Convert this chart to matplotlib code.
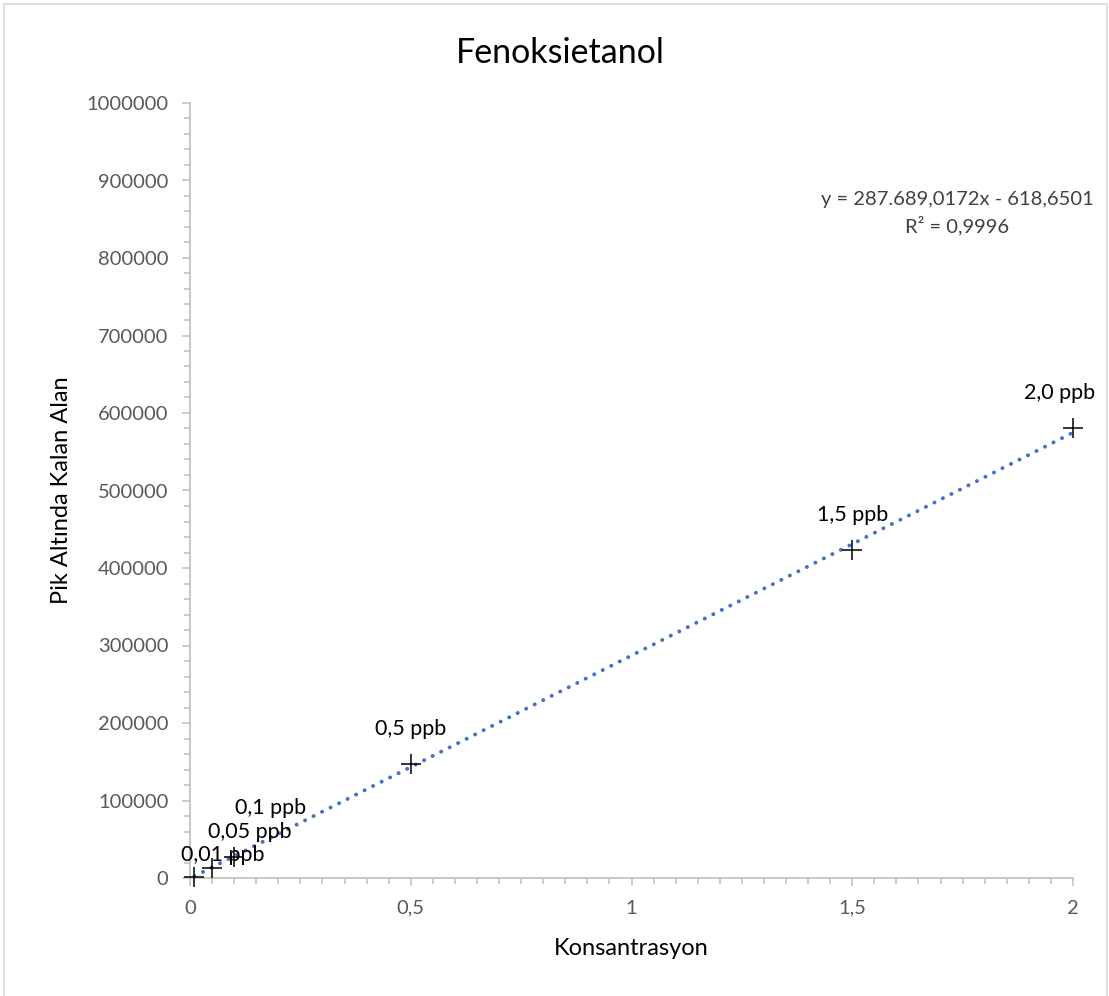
import matplotlib.pyplot as plt
import numpy as np
from matplotlib.patches import Rectangle
from matplotlib.ticker import FuncFormatter, MultipleLocator

plt.rcParams["font.family"] = ["Lato", "DejaVu Sans"]

# calibration points
concentration = [0.01, 0.05, 0.1, 0.5, 1.5, 2.0]
peak_area = [1300, 12900, 27000, 147000, 423000, 580600]
point_labels = ["0,01 ppb", "0,05 ppb", "0,1 ppb", "0,5 ppb", "1,5 ppb", "2,0 ppb"]

# linear trendline reported on the chart
slope = 287689.0172
intercept = -618.6501
r_squared = 0.9996

# label offsets in pixels (dx, dy) relative to each point
label_offsets = [(28, 22), (38, 36), (36, 49), (0, 35), (0, 35), (-13, 35)]

GRAY = "#595959"
AXIS = "#bfbfbf"


def tr_number(value, decimals):
    s = f"{abs(value):,.{decimals}f}"
    s = s.replace(",", "X").replace(".", ",").replace("X", ".")
    return s


fig = plt.figure(figsize=(11.09, 9.96), dpi=100)
ax = fig.add_axes([190 / 1109, 1 - 878 / 996, (1073 - 190) / 1109, (878 - 103) / 996])

# trendline over the data range
xs = np.linspace(min(concentration), max(concentration), 200)
ax.plot(xs, slope * xs + intercept, color="#4472C4", linewidth=2.8,
        linestyle=(0, (0.05, 2.4)), dash_capstyle="round", zorder=2, clip_on=False)

ax.plot(concentration, peak_area, linestyle="none", marker="+", markersize=15,
        markeredgewidth=1.1, color="black", zorder=3, clip_on=False)

for x, y, text, (dx, dy) in zip(concentration, peak_area, point_labels, label_offsets):
    ax.annotate(text, (x, y), xytext=(dx * 0.72, dy * 0.72), textcoords="offset points",
                ha="center", va="center", fontsize=15.5, color="black", zorder=4)

ax.set_xlim(0, 2)
ax.set_ylim(0, 1000000)
ax.xaxis.set_major_locator(MultipleLocator(0.5))
ax.xaxis.set_minor_locator(MultipleLocator(0.05))
ax.yaxis.set_major_locator(MultipleLocator(100000))
ax.yaxis.set_minor_locator(MultipleLocator(20000))
ax.xaxis.set_major_formatter(FuncFormatter(lambda v, p: f"{v:g}".replace(".", ",")))
ax.yaxis.set_major_formatter(FuncFormatter(lambda v, p: f"{int(round(v))}"))

for side in ["top", "right"]:
    ax.spines[side].set_visible(False)
for side in ["left", "bottom"]:
    ax.spines[side].set_color(AXIS)
    ax.spines[side].set_linewidth(1.2)

ax.tick_params(which="major", length=5.5, width=1.1, color=AXIS, labelsize=14.5, labelcolor=GRAY)
ax.tick_params(which="minor", length=4.5, width=1.1, color=AXIS)
ax.tick_params(axis="x", which="major", pad=10)
ax.tick_params(axis="y", which="major", pad=10)

ax.set_xlabel("Konsantrasyon", fontsize=17, color="black")
ax.set_ylabel("Pik Altında Kalan Alan", fontsize=17, color="black")
ax.xaxis.set_label_coords(0.5, -0.078)
ax.yaxis.set_label_coords(-0.134, 0.5)

fig.text(560 / 1109, 1 - 53 / 996, "Fenoksietanol", ha="center", va="center",
         fontsize=24.5, color="black")

sign = "-" if intercept < 0 else "+"
equation = f"y = {tr_number(slope, 4)}x {sign} {tr_number(intercept, 4)}"
fig.text(957 / 1109, 1 - 199 / 996, equation, ha="center", va="center",
         fontsize=14.5, color="#404040")
fig.text(957 / 1109, 1 - 226 / 996, f"R² = {tr_number(r_squared, 4)}", ha="center",
         va="center", fontsize=14.5, color="#404040")

# chart area frame
fig.patches.append(Rectangle((4 / 1109, -0.02), 1103 / 1109, 1.02 - 4 / 996,
                             transform=fig.transFigure, fill=False,
                             edgecolor="#d9d9d9", linewidth=1.2))

fig.savefig("out.png", dpi=100)
